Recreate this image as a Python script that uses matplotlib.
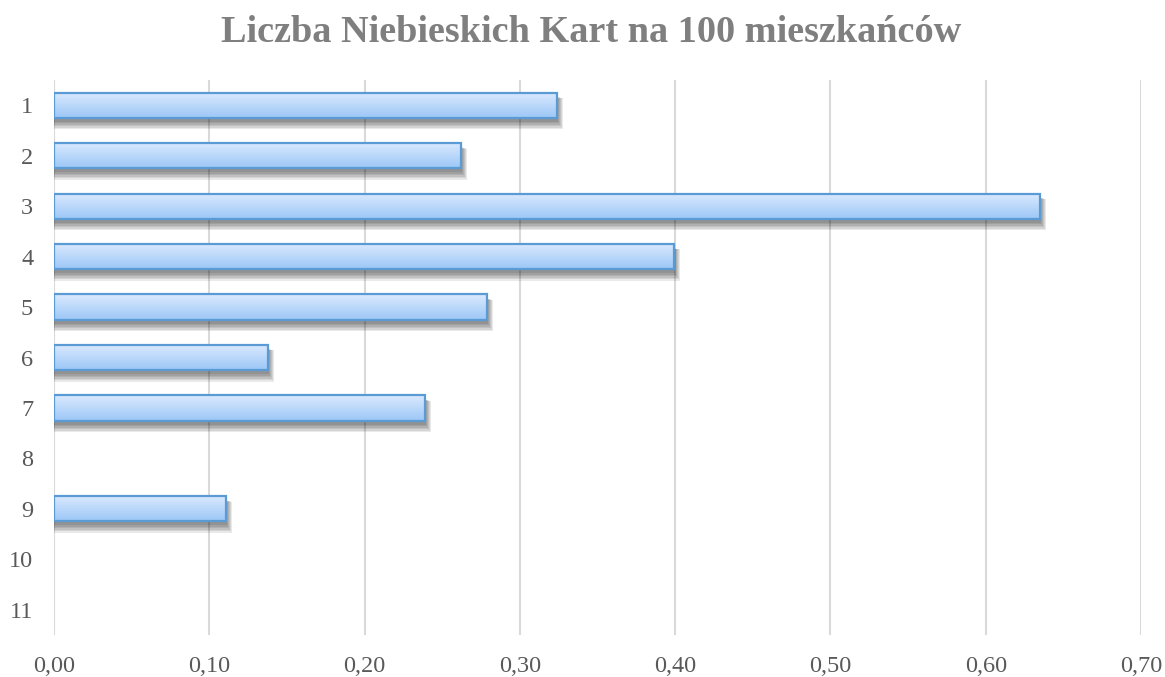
import numpy as np
import matplotlib
matplotlib.use("Agg")
import matplotlib.pyplot as plt
from matplotlib.patches import Rectangle
from matplotlib.colors import LinearSegmentedColormap
from matplotlib.ticker import FuncFormatter

# --- data ---
categories = ["1", "2", "3", "4", "5", "6", "7", "8", "9", "10", "11"]
values = [0.324, 0.262, 0.635, 0.399, 0.279, 0.138, 0.239, 0.0, 0.111, 0.0, 0.0]
x_ticks = [0.0, 0.1, 0.2, 0.3, 0.4, 0.5, 0.6, 0.7]
title = "Liczba Niebieskich Kart na 100 mieszkańców"

plt.rcParams["font.family"] = ["Liberation Serif", "DejaVu Serif"]

fig = plt.figure(figsize=(11.65, 6.77), dpi=100)
ax = fig.add_axes([54 / 1165, 1 - 635 / 677, (1141 - 54) / 1165, 555 / 677])

ypos = np.arange(1, len(categories) + 1)
bar_h = 0.5
grad_cmap = LinearSegmentedColormap.from_list("bar", ["#dbeaff", "#9cc7f6"])
grad = np.linspace(0, 1, 64).reshape(-1, 1)

# pixel sizes in data units, used for the drop shadow
px_x = 0.7 / (1141 - 54)
px_y = 11.0 / 555

for y, v in zip(ypos, values):
    if v <= 0:
        continue
    # soft shadow: stacked translucent rectangles
    for k in range(6):
        ax.add_patch(Rectangle(
            (0, y - bar_h / 2 + (4 + k * 0.3) * px_y),
            v + (1 + k) * px_x,
            bar_h + k * 1.2 * px_y,
            facecolor="black", alpha=0.085, edgecolor="none", zorder=2))
    img = ax.imshow(grad, cmap=grad_cmap, aspect="auto",
                    extent=(0, v, y + bar_h / 2, y - bar_h / 2),
                    interpolation="bilinear", zorder=3)
    rect = Rectangle((0, y - bar_h / 2), v, bar_h, facecolor="none",
                     edgecolor="#5b9bd5", linewidth=1.6, zorder=4)
    ax.add_patch(rect)
    img.set_clip_path(rect)

ax.set_xlim(0, 0.7)
ax.set_ylim(11.5, 0.5)
ax.set_xticks(x_ticks)
ax.xaxis.set_major_formatter(FuncFormatter(lambda x, p: f"{x:.2f}".replace(".", ",")))
ax.set_yticks(ypos)
ax.set_yticklabels(categories)

ax.grid(axis="x", color="#d9d9d9", linewidth=1.5, zorder=0)
ax.set_axisbelow(True)
for s in ax.spines.values():
    s.set_visible(False)
ax.tick_params(axis="both", length=0, labelsize=17.5, labelcolor="#595959")
ax.tick_params(axis="x", pad=15)
ax.tick_params(axis="y", pad=15)

fig.text(591 / 1165, 1 - 33 / 677, title, ha="center", va="center",
         fontsize=27.5, fontweight="bold", color="#7f7f7f")

fig.savefig("out.png", dpi=100, facecolor="white")
